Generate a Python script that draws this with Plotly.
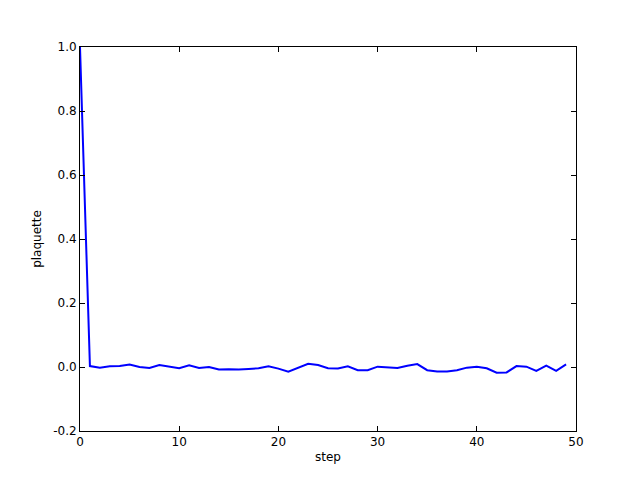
import plotly.graph_objects as go

steps = list(range(50))
plaquette = [1.0, 0.003, -0.002, 0.002, 0.003, 0.008, 0.0, -0.003, 0.006, 0.002,
             -0.004, 0.005, -0.003, 0.0, -0.008, -0.007, -0.008, -0.006, -0.004, 0.002,
             -0.005, -0.015, -0.002, 0.01, 0.006, -0.004, -0.005, 0.002, -0.01, -0.01,
             0.001, -0.001, -0.003, 0.004, 0.009, -0.01, -0.014, -0.014, -0.01, -0.002,
             0.001, -0.004, -0.018, -0.017, 0.003, 0.001, -0.012, 0.004, -0.012, 0.008]

x_ticks = [0, 10, 20, 30, 40, 50]
y_ticks = [-0.2, 0.0, 0.2, 0.4, 0.6, 0.8, 1.0]

fig = go.Figure(go.Scatter(x=steps, y=plaquette, mode="lines",
                           line=dict(color="#0000ff", width=2)))

axis_common = dict(showgrid=False, zeroline=False, showline=True, linecolor="black",
                   linewidth=1, mirror="ticks", ticks="inside", ticklen=5,
                   tickcolor="black", tickfont=dict(size=12, color="black"))

fig.update_layout(
    width=640, height=480,
    margin=dict(l=72, r=72, t=39, b=57, autoexpand=False),
    paper_bgcolor="white", plot_bgcolor="white",
    font=dict(family="DejaVu Sans", size=12, color="black"),
    showlegend=False,
    xaxis=dict(range=[0, 50], tickvals=x_ticks, ticktext=[str(v) for v in x_ticks],
               title=dict(text="step", standoff=4, font=dict(size=12)), **axis_common),
    yaxis=dict(range=[-0.2, 1.0], tickvals=y_ticks, ticktext=[f"{v:.1f}" for v in y_ticks],
               title=dict(text="plaquette", standoff=8, font=dict(size=12)), **axis_common),
)

fig.write_html("out.html")
